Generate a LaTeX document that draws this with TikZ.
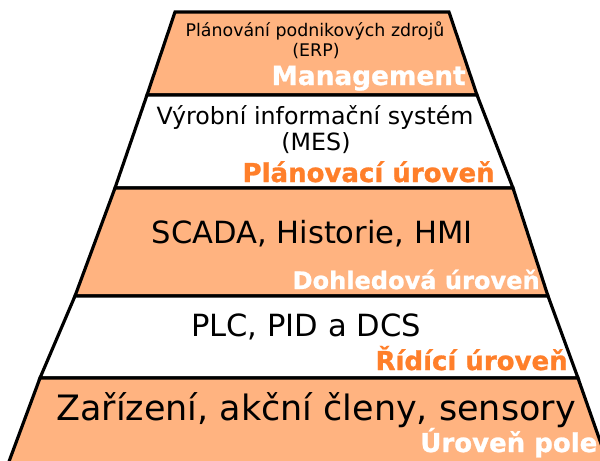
\documentclass[tikz,border=0pt]{standalone}
\usepackage{fontspec}
\setmainfont{DejaVu Sans}
\newfontfamily\popisfont[FakeBold=1]{DejaVu Sans Bold}
\usetikzlibrary{positioning}
\tikzset{vrstva/.style={draw=black, line width=1.8pt, line join=miter}}
\tikzset{popis/.style={font=\popisfont\fontsize{14.8}{16}\selectfont, anchor=base east}}
\definecolor{pastelorange}{RGB}{255,179,128}
\definecolor{tmavaorange}{RGB}{255,127,42}

\begin{document}
\begin{tikzpicture}[x=0.02cm, y=-0.02cm, every node/.style={inner sep=0pt}]
  \clip (0,0) rectangle (600,461);
  % vrstvy pyramidy
  \draw[vrstva, fill=pastelorange] (175,12) -- (449,12) -- (477,95) -- (147,95) -- cycle;
  \draw[vrstva, fill=white] (147,95) -- (477,95) -- (513,188) -- (115,188) -- cycle;
  \draw[vrstva, fill=pastelorange] (115,188) -- (513,188) -- (548,296) -- (75,296) -- cycle;
  \draw[vrstva, fill=white] (75,296) -- (548,296) -- (578,378) -- (40,378) -- cycle;
  \draw[vrstva, fill=pastelorange] (40,378) -- (578,378) -- (612,475) -- (4,475) -- cycle;

  % texty
  \node[anchor=base] (erp) at (315,36) {\fontsize{9.9}{12}\selectfont Plánování podnikových zdrojů};
  \node[anchor=base] (erp2) at (316,56) {\fontsize{9.9}{12}\selectfont (ERP)};
  \node[popis, text=white, font=\popisfont\fontsize{15}{16}\selectfont] (man) at (466,85) {Management};

  \node[anchor=base] (mes) at (315,124) {\fontsize{13.5}{16}\selectfont Výrobní informační systém};
  \node[anchor=base] (mes2) at (316,150) {\fontsize{13.5}{16}\selectfont (MES)};
  \node[popis, text=tmavaorange] (plan) at (495,182) {Plánovací úroveň};

  \node[anchor=base] (scada) at (312,243) {\fontsize{17.4}{20}\selectfont SCADA, Historie, HMI};
  \node[popis, text=white, font=\popisfont\fontsize{13.7}{16}\selectfont] (dohl) at (540,289) {Dohledová úroveň};

  \node[anchor=base] (plc) at (306,336) {\fontsize{17.4}{20}\selectfont PLC, PID a DCS};
  \node[popis, text=tmavaorange] (ridi) at (568,370) {Řídící úroveň};

  \node[anchor=base] (zar) at (316,420) {\fontsize{19.9}{23}\selectfont Zařízení, akční členy, sensory};
  \node[popis, text=white, anchor=base west] (pole) at (420,452) {Úroveň pole};
\end{tikzpicture}
\end{document}
